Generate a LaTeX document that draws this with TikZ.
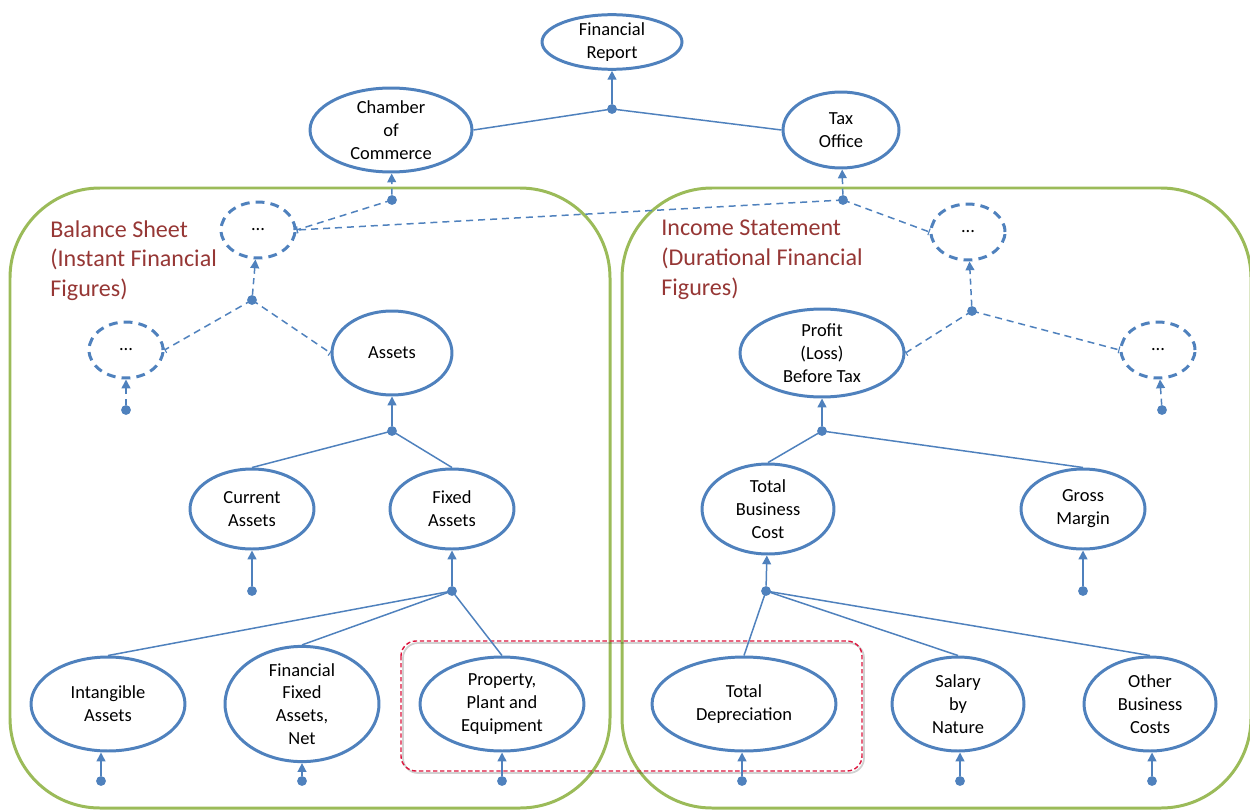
\documentclass[tikz,border=0pt]{standalone}
\usepackage{fontspec}
\setmainfont{Carlito}
\usetikzlibrary{shapes.geometric,arrows.meta}
\definecolor{nblue}{RGB}{79,129,189}
\definecolor{ngreen}{RGB}{155,187,89}
\definecolor{tred}{RGB}{150,55,53}
\definecolor{bred}{RGB}{220,20,60}
\begin{document}
\begin{tikzpicture}[x=0.02cm,y=-0.02cm,
  ell/.style={ellipse, draw=nblue, line width=1.7pt, inner sep=0pt, align=center,
    font=\fontsize{10.5}{13}\selectfont, fill=white},
  del/.style={ell, dash pattern=on 5pt off 3.5pt, minimum width=1.48cm, minimum height=1.12cm},
  dotn/.style={circle, fill=nblue, inner sep=0pt, minimum size=5.6pt},
  con/.style={draw=nblue, line width=0.85pt},
  arr/.style={con, -{Triangle[length=5pt,width=5pt]}},
  darr/.style={arr, dash pattern=on 3.5pt off 2.5pt},
  dcon/.style={con, dash pattern=on 4pt off 2.8pt, -{Bar[width=4pt,line width=0.6pt]}},
  grp/.style={draw=ngreen, line width=1.7pt, rounded corners=1.8cm},
  ttl/.style={anchor=north west, align=left, text=tred, inner sep=0pt,
    font=\fontsize{13.7}{17}\selectfont}
]
\useasboundingbox (0,0) rectangle (1250,811);

% group frames
\draw[grp] (10,188) rectangle (610,808);
\draw[grp] (622,188) rectangle (1251,808);
\draw[draw=black, opacity=0.18, line width=1pt, rounded corners=0.3cm]
  (403,643) rectangle (864,773);
\draw[draw=bred, line width=0.8pt, dash pattern=on 2.5pt off 1.5pt, rounded corners=0.3cm]
  (401,641) rectangle (862,771);

\node[ttl] (tbs) at (50,220) {Balance Sheet\\(Instant Financial\\Figures)};
\node[ttl] (tis) at (661,220) {Income Statement\\(Durational Financial\\Figures)};

% top
\node[ell, minimum width=2.8cm, minimum height=0.96cm] (fr) at (612,42) {Financial\\Report};
\node[ell, minimum width=3.24cm, minimum height=1.68cm] (ch) at (391,130) {Chamber\\of\\Commerce};
\node[ell, minimum width=2.32cm, minimum height=1.52cm] (to) at (841,130) {Tax\\Office};
\node[dotn] (j0) at (612,109) {};
\node[dotn] (jch) at (392,200) {};
\node[dotn] (jto) at (843,200) {};

% dashed
\node[del] (e1) at (258,230) {...};
\node[del] (e2) at (968,232) {...};
\node[dotn] (j1) at (252,300) {};
\node[del] (e3) at (126,350) {...};
\node[dotn] (j3) at (126,410) {};
\node[dotn] (j2) at (972,311) {};
\node[del] (e4) at (1158,350) {...};
\node[dotn] (j4) at (1162,410) {};

% balance sheet
\node[ell, minimum width=2.4cm, minimum height=1.68cm] (as) at (392,353) {Assets};
\node[dotn] (jas) at (392,431) {};
\node[ell, minimum width=2.48cm, minimum height=1.6cm] (ca) at (252,509) {Current\\Assets};
\node[ell, minimum width=2.48cm, minimum height=1.6cm] (fa) at (452,509) {Fixed\\Assets};
\node[dotn] (jca) at (252,591) {};
\node[dotn] (jfa) at (452,591) {};
\node[ell, minimum width=3.08cm, minimum height=1.88cm] (ia) at (108,704) {Intangible\\Assets};
\node[ell, minimum width=3.08cm, minimum height=1.88cm] (ffa) at (302,704) {Financial\\Fixed\\Assets,\\Net};
\node[ell, minimum width=3.28cm, minimum height=1.88cm] (ppe) at (502,704) {Property,\\Plant and\\Equipment};
\node[dotn] (jia) at (101,781) {};
\node[dotn] (jffa) at (302,781) {};
\node[dotn] (jppe) at (502,781) {};

% income statement
\node[ell, minimum width=3.28cm, minimum height=1.76cm] (pl) at (822,353) {Profit\\(Loss)\\Before Tax};
\node[dotn] (jpl) at (822,431) {};
\node[ell, minimum width=2.64cm, minimum height=1.8cm] (tbc) at (768,509) {Total\\Business\\Cost};
\node[ell, minimum width=2.48cm, minimum height=1.6cm] (gm) at (1083,509) {Gross\\Margin};
\node[dotn] (jtbc) at (766,591) {};
\node[dotn] (jgm) at (1083,591) {};
\node[ell, minimum width=3.68cm, minimum height=1.88cm] (td) at (744,704) {Total\\Depreciation};
\node[ell, minimum width=2.64cm, minimum height=1.88cm] (sal) at (958,704) {Salary\\by\\Nature};
\node[ell, minimum width=2.64cm, minimum height=1.88cm] (obc) at (1150,704) {Other\\Business\\Costs};
\node[dotn] (jtd) at (742,781) {};
\node[dotn] (jsal) at (960,781) {};
\node[dotn] (jobc) at (1152,781) {};

% connectors
\draw[arr] (j0) -- (fr);
\draw[con] (j0.center) -- (ch.east);
\draw[con] (j0.center) -- (to.west);
\draw[darr] (jch) -- (ch);
\draw[darr] (jto) -- (to);
\draw[dcon] (jch.center) -- (e1.east);
\draw[dcon] (jto.center) -- (e1.east);
\draw[dcon] (jto.center) -- (e2.west);
\draw[darr] (j1) -- (e1);
\draw[dcon] (j1.center) -- (e3.east);
\draw[dcon] (j1.center) -- (as.west);
\draw[darr] (j3) -- (e3);
\draw[darr] (j2) -- (e2);
\draw[dcon] (j2.center) -- (pl.east);
\draw[dcon] (j2.center) -- (e4.west);
\draw[darr] (j4) -- (e4);

\draw[arr] (jas) -- (as);
\draw[con] (jas.center) -- (ca.north);
\draw[con] (jas.center) -- (fa.north);
\draw[arr] (jca) -- (ca);
\draw[arr] (jfa) -- (fa);
\draw[con] (jfa.center) -- (ia.north);
\draw[con] (jfa.center) -- (ffa.north);
\draw[con] (jfa.center) -- (ppe.north);
\draw[arr] (jia) -- (jia |- ia.south);
\draw[arr] (jffa) -- (ffa);
\draw[arr] (jppe) -- (ppe);

\draw[arr] (jpl) -- (pl);
\draw[con] (jpl.center) -- (tbc.north);
\draw[con] (jpl.center) -- (gm.north);
\draw[arr] (jgm) -- (gm);
\draw[arr] (jtbc) -- (tbc);
\draw[con] (jtbc.center) -- (td.north);
\draw[con] (jtbc.center) -- (sal.north);
\draw[con] (jtbc.center) -- (obc.north);
\draw[arr] (jtd) -- (jtd |- td.south);
\draw[arr] (jsal) -- (jsal |- sal.south);
\draw[arr] (jobc) -- (jobc |- obc.south);
\end{tikzpicture}
\end{document}
